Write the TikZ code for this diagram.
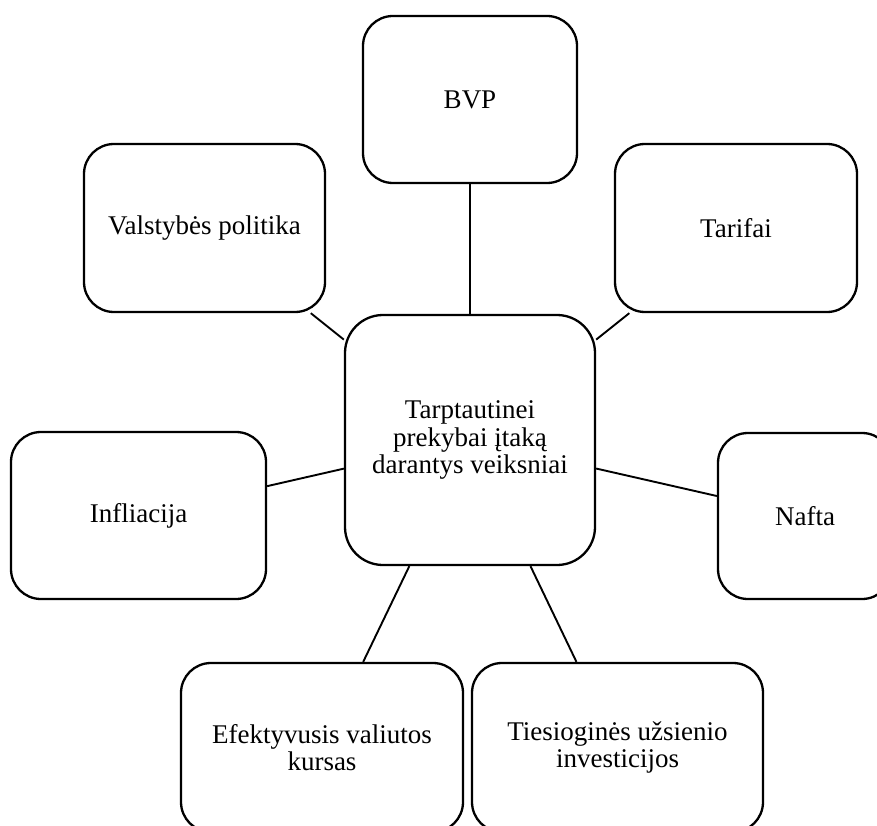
\documentclass[tikz,border=0pt]{standalone}
\usepackage{fontspec}
\setmainfont{Liberation Serif}
\begin{document}
\begin{tikzpicture}[x=1pt,y=-1pt,
  factor/.style={draw=black, line width=2.3pt, rounded corners=30pt, inner sep=0pt,
    align=center, font=\fontsize{27}{27.5}\selectfont},
  center box/.style={factor, rounded corners=38pt},
  link/.style={draw=black, line width=1.9pt}]
\useasboundingbox (0,0) rectangle (877,826);
\fill[white] (0,0) rectangle (877,826);
\clip (0,0) rectangle (877,826);
\node[center box, minimum width=250pt, minimum height=250pt] (cen) at (470,440)
  {\raisebox{0pt}[\height][\depth]{}Tarptautinei\\prekybai įtaką\\darantys veiksniai};
\node[factor, minimum width=214pt, minimum height=167pt] (bvp) at (470,99.5) {BVP};
\node[factor, minimum width=241pt, minimum height=168pt] (val) at (204.5,228) {Valstybės politika};
\node[factor, minimum width=242pt, minimum height=168pt] (tar) at (736,228) {Tarifai};
\node[factor, minimum width=255pt, minimum height=167pt] (inf) at (138.5,515.5) {Infliacija};
\node[factor, minimum width=174pt, minimum height=166pt] (naf) at (805,516) {Nafta};
\node[factor, minimum width=282pt, minimum height=169pt] (efk) at (322,747.5)
  {Efektyvusis valiutos\\kursas};
\node[factor, minimum width=291pt, minimum height=169pt] (tui) at (617.5,747.5)
  {Tiesioginės užsienio\\investicijos};
\draw[link] (bvp) -- (cen);
\draw[link] (val) -- (cen);
\draw[link] (tar) -- (cen);
\draw[link] (inf) -- (cen);
\draw[link] (naf) -- (cen);
\draw[link] (efk) -- (cen);
\draw[link] (tui) -- (cen);
\end{tikzpicture}
\end{document}
